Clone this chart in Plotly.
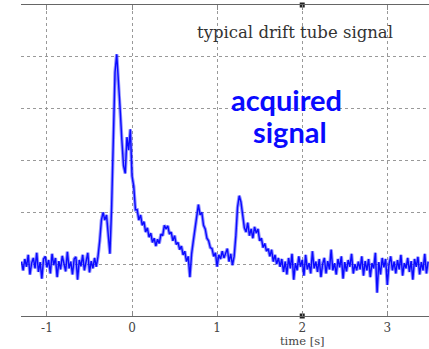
import plotly.graph_objects as go

# sampled signal: start time, sample step (s) and values (grid units)
t_start = -1.30
t_step = 0.02

baseline_left = [0.05, -0.12, 0.10, -0.05, 0.18, -0.20, 0.02, 0.12, -0.08, 0.22,
                 -0.15, 0.04, -0.28, 0.10, 0.15, -0.06, 0.08, -0.18, 0.20, -0.02,
                 0.12, -0.25, 0.06, -0.10, 0.16, 0.00, -0.14, 0.24, -0.08, 0.05,
                 -0.20, 0.10, 0.14, -0.30, 0.08, -0.04, 0.18, -0.12, 0.02, 0.22,
                 -0.16, 0.06, -0.08, 0.12, -0.05]
first_bump = [0.15, 0.45, 0.85, 1.00, 0.85, 0.95, 0.55]
main_peak = [0.20, 1.10, 2.60, 3.70, 4.05, 3.40, 3.00, 2.40, 1.90, 1.75,
             2.45, 2.20, 2.60, 1.70, 1.50, 1.05]
tail = [1.05, 0.85, 0.95, 0.75, 0.82, 0.62, 0.70, 0.52, 0.60, 0.42,
        0.50, 0.35, 0.48, 0.40, 0.58, 0.55, 0.75, 0.68, 0.74, 0.58,
        0.62, 0.45, 0.55, 0.38, 0.42, 0.28, 0.35, 0.18, 0.25, 0.05,
        0.15, -0.25, 0.20, 0.45, 0.70, 0.85, 1.15, 0.95, 1.00, 0.75,
        0.68, 0.50, 0.45, 0.32, 0.30, 0.15, 0.22, -0.05, 0.18, 0.10,
        0.25, 0.12, 0.22, 0.30, 0.05, 0.20, -0.02, 0.15]
late_peak = [0.55, 1.10, 1.32, 1.20, 0.95, 0.70, 0.62, 0.80, 0.55, 0.68,
             0.50, 0.72, 0.60, 0.68, 0.45, 0.50, 0.32, 0.40, 0.25, 0.30,
             0.15, 0.28, 0.05, 0.18, 0.00, 0.12, -0.05]
baseline_right = [0.10, -0.15, 0.05, -0.20, 0.12, -0.08, 0.20, -0.30, 0.02, -0.12,
                  0.15, -0.05, 0.08, -0.22, 0.18, -0.10, 0.02, -0.18, 0.25, -0.08,
                  0.05, -0.15, 0.10, -0.25, 0.00, 0.12, -0.18, 0.06, -0.10, 0.28,
                  -0.12, 0.02, -0.20, 0.10, -0.06, 0.15, -0.28, 0.04, -0.14, 0.08,
                  -0.05, 0.20, -0.18, 0.00, -0.12, 0.05, -0.10, 0.15, -0.22, 0.06,
                  -0.12, 0.10, -0.25, 0.02, -0.08, 0.22, -0.55, 0.04, -0.20, 0.12,
                  -0.06, 0.10, -0.40, 0.00, 0.15, -0.12, 0.05, -0.18, 0.08, -0.10,
                  0.18, -0.22, 0.02, -0.08, 0.12, -0.15, 0.06, -0.30, 0.10, -0.05,
                  0.14, -0.20, 0.04, -0.12, 0.20, -0.18, 0.05]

tick_values = [-1, 0, 1, 2, 3]
tick_labels = ["-1", "0", "1", "2", "3"]
cursor_x = [2, 2]
cursor_y = [5, -1]

signal = baseline_left + first_bump + main_peak + tail + late_peak + baseline_right
time = [round(t_start + t_step * i, 4) for i in range(len(signal))]

fig = go.Figure()
fig.add_trace(go.Scatter(
    x=time, y=signal, mode="lines",
    line=dict(color="rgba(40,40,255,0.5)", width=3.4),
    hoverinfo="skip", showlegend=False,
))
fig.add_trace(go.Scatter(
    x=time, y=signal, mode="lines",
    line=dict(color="rgb(10,10,255)", width=1.4),
    hoverinfo="skip", showlegend=False,
))
fig.add_trace(go.Scatter(
    x=cursor_x, y=cursor_y, mode="markers",
    marker=dict(symbol="square", size=5, color="#222"),
    cliponaxis=False, hoverinfo="skip", showlegend=False,
))

fig.update_layout(
    width=429, height=349,
    margin=dict(l=21, r=0, t=5, b=33),
    paper_bgcolor="white", plot_bgcolor="white",
    xaxis=dict(
        range=[-1.305, 3.49], tickvals=tick_values, ticktext=tick_labels,
        showgrid=True, gridcolor="#999", griddash="dot", gridwidth=1,
        zeroline=False, showline=True, linecolor="#666", linewidth=1.3,
        mirror="ticks", ticks="inside", ticklen=5, tickcolor="#888",
        tickfont=dict(family="DejaVu Serif", size=12, color="#444"),
    ),
    yaxis=dict(
        range=[-1, 5], dtick=1, showticklabels=False,
        showgrid=True, gridcolor="#999", griddash="dot", gridwidth=1,
        zeroline=False, showline=False, ticks="",
    ),
    annotations=[
        dict(text="typical drift tube signal", x=1.92, y=4.46, xref="x", yref="y",
             showarrow=False, font=dict(family="DejaVu Serif", size=16.5, color="#333")),
        dict(text="<b>acquired</b>", x=1.81, y=3.17, xref="x", yref="y",
             showarrow=False, font=dict(family="Lato", size=29, color="#0a0aff")),
        dict(text="<b>signal</b>", x=1.86, y=2.55, xref="x", yref="y",
             showarrow=False, font=dict(family="Lato", size=29, color="#0a0aff")),
        dict(text="time [s]", x=2.0, y=-0.105, xref="x", yref="paper",
             showarrow=False, yanchor="bottom", borderpad=0,
             font=dict(family="DejaVu Serif", size=11.5, color="#444")),
    ],
)

fig.write_html("out.html", config={"displayModeBar": False},
               post_script="document.body.style.margin='0px';")
